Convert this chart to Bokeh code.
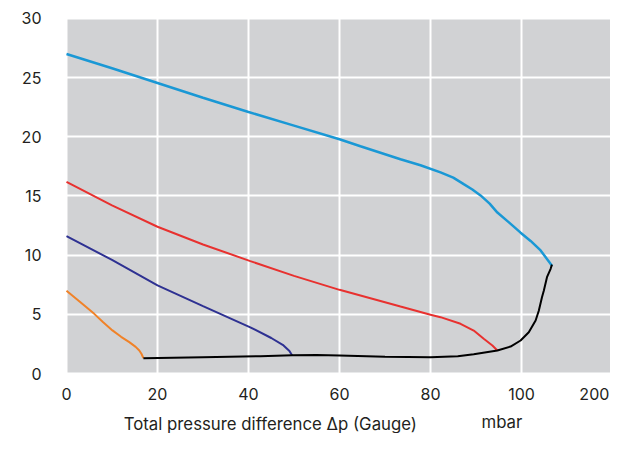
from bokeh.plotting import figure
from bokeh.models import Label, FixedTicker, Range1d, BoxAnnotation, ColumnDataSource
from bokeh.core.properties import value
from bokeh.embed import file_html
from bokeh.resources import INLINE

# ---- data ----
cyan_x = [0, 10, 20, 30, 40, 50, 60, 64.6, 73.4, 77.8, 82.2, 85.0, 87.3, 89.2, 91, 93.0, 94.7, 97.3, 99.8, 102, 104.2, 106.7]
cyan_y = [27.0, 25.8, 24.55, 23.3, 22.1, 20.95, 19.8, 19.2, 18.1, 17.6, 17.0, 16.55, 16.0, 15.55, 15.05, 14.35, 13.6, 12.75, 11.9, 11.2, 10.4, 9.1]

red_x = [0, 10, 20, 30, 40.4, 50, 60, 73.4, 80, 82.2, 86.6, 89.5, 91.7, 93.6, 94.7]
red_y = [16.2, 14.2, 12.4, 10.9, 9.5, 8.25, 7.07, 5.66, 4.97, 4.76, 4.2, 3.63, 2.93, 2.37, 1.94]

navy_x = [0, 10, 20, 30, 40.4, 45, 47.7, 49.0, 49.6]
navy_y = [11.6, 9.6, 7.44, 5.7, 3.9, 3.0, 2.37, 1.9, 1.52]

orange_x = [0, 3, 6.1, 8, 10.1, 12, 13.8, 15.2, 16.0, 16.5, 16.9]
orange_y = [7.0, 6.05, 5.04, 4.35, 3.64, 3.1, 2.65, 2.25, 1.94, 1.65, 1.3]

black_x = [16.9, 30, 42.6, 49.6, 55, 60, 70, 80, 86, 89.5, 94.7, 97.6, 99.8, 101.6, 103.1, 103.8, 104.5, 104.9, 105.6, 106.4, 106.7]
black_y = [1.29, 1.38, 1.46, 1.55, 1.57, 1.52, 1.42, 1.37, 1.45, 1.62, 1.94, 2.28, 2.79, 3.49, 4.48, 5.3, 6.45, 7.0, 8.14, 8.85, 9.2]

x_ticks = [0, 20, 40, 60, 80, 100]
x_tick_labels = ["0", "20", "40", "60", "80", "100"]
y_ticks = [0, 5, 10, 15, 20, 25, 30]
y_tick_labels = ["0", "5", "10", "15", "20", "25", "30"]
x_edge_label = "200"

x_title = "Total pressure difference \u0394p (Gauge)"
x_unit = "mbar"

FONT = "Inter"
TXT = "#231f20"
GRAY = "#d1d2d4"

X_MIN, X_MAX = -14.505, 119.56
Y_MIN, Y_MAX = -5.07, 31.52

p = figure(width=610, height=433, output_backend="svg", toolbar_location=None,
           x_range=Range1d(X_MIN, X_MAX), y_range=Range1d(Y_MIN, Y_MAX),
           x_axis_location=None, y_axis_location=None,
           min_border_left=0, min_border_right=0, min_border_top=0, min_border_bottom=0)
p.background_fill_color = "white"
p.border_fill_color = "white"
p.outline_line_color = None

# gray plotting area (data region)
p.add_layout(BoxAnnotation(left=x_ticks[0], right=X_MAX, bottom=y_ticks[0], top=y_ticks[-1],
                           fill_color=GRAY, fill_alpha=1.0, line_color=None, level="image"))

p.xgrid.ticker = FixedTicker(ticks=x_ticks)
p.ygrid.ticker = FixedTicker(ticks=y_ticks)
p.grid.grid_line_color = "white"
p.grid.grid_line_width = 2

p.line(cyan_x, cyan_y, line_color="#1a98d5", line_width=2.5)
p.line(red_x, red_y, line_color="#e8312f", line_width=2)
p.line(navy_x, navy_y, line_color="#2e3192", line_width=2)
p.line(orange_x, orange_y, line_color="#f08228", line_width=2)
p.line(black_x, black_y, line_color="#000000", line_width=2)

# tick labels placed through the data scales
xt = ColumnDataSource(dict(x=x_ticks, y=[-1.7] * len(x_ticks), t=x_tick_labels))
p.text(x="x", y="y", text="t", source=xt, text_align="center", text_baseline="alphabetic",
       text_font=value(FONT), text_font_size="16px", text_color=TXT)
yt = ColumnDataSource(dict(x=[-5.5] * len(y_ticks), y=y_ticks, t=y_tick_labels))
p.text(x="x", y="y", text="t", source=yt, text_align="right", text_baseline="middle",
       text_font=value(FONT), text_font_size="16px", text_color=TXT)

p.add_layout(Label(x=119.3, y=-1.7, text=x_edge_label, text_align="right", text_baseline="alphabetic",
                   text_font=FONT, text_font_size="16px", text_color=TXT))
p.add_layout(Label(x=44.8, y=-4.23, text=x_title, text_align="center", text_baseline="alphabetic",
                   text_font=FONT, text_font_size="16.8px", text_color=TXT))
p.add_layout(Label(x=91.2, y=-4.1, text=x_unit, text_align="left", text_baseline="alphabetic",
                   text_font=FONT, text_font_size="16.8px", text_color=TXT))

open("out.html", "w").write(file_html(p, INLINE))
